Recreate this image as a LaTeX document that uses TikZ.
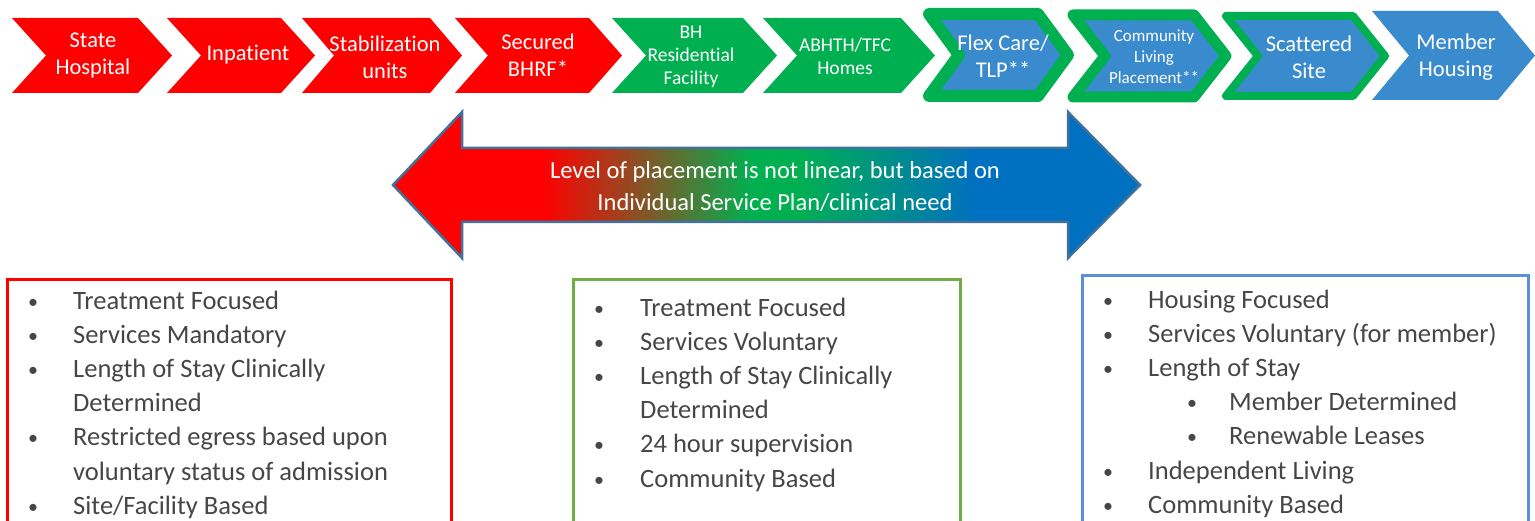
\documentclass[tikz,border=0pt]{standalone}
\usepackage{fontspec}
\setmainfont{Carlito}[Ligatures=CommonOff]
\usetikzlibrary{calc}
\definecolor{cred}{HTML}{FF0000}
\definecolor{cgreen}{HTML}{00B050}
\definecolor{cblue}{HTML}{3A8BCD}
\definecolor{ablue}{HTML}{0070C0}
\definecolor{aedge}{HTML}{41719C}
\definecolor{txtgray}{HTML}{464646}
\definecolor{gframe}{HTML}{70AD47}
\definecolor{bframe}{HTML}{5B8FD6}
\pgfdeclarehorizontalshading{arrowshade}{100bp}{color(0bp)=(cred); color(35bp)=(cred); color(49bp)=(cgreen); color(52bp)=(cgreen); color(64bp)=(ablue); color(100bp)=(ablue)}
\newcommand\chevshape[6]{\path[#1] (#2,#4) -- ({#3-#6},#4) -- (#3,{(#4+#5)/2}) -- ({#3-#6},#5) -- (#2,#5) -- ({#2+#6},{(#4+#5)/2}) -- cycle;}
\newcommand\smallbullet{{\fontsize{20}{20}\selectfont\raisebox{1pt}{\textbullet}}}
\begin{document}
\begin{tikzpicture}[x=1pt,y=-1pt,
  redchev/.style={fill=cred},
  greenchev/.style={fill=cgreen},
  bluechev/.style={fill=cblue},
  bordchev/.style={fill=cblue, draw=cgreen, line join=round},
  chevtext/.style={text=white, align=center, inner sep=0pt, font=\fontsize{22.5}{27}\selectfont},
  chevsmall/.style={chevtext, font=\fontsize{19.5}{23}\selectfont},
  chevtiny/.style={chevtext, font=\fontsize{17}{21}\selectfont},
  bigarrow/.style={shading=arrowshade, draw=aedge, line width=2.5pt, line join=miter},
  arrowtext/.style={text=white, align=center, inner sep=0pt, font=\fontsize{24.5}{32}\selectfont},
  frame/.style={line width=3pt},
  listtext/.style={text=txtgray, inner sep=0pt, anchor=north west, font=\fontsize{26.5}{34.2}\selectfont}
]
\useasboundingbox (0,0) rectangle (1535,521);
\clip (0,0) rectangle (1535,521);

% chevrons
\chevshape{redchev}{12}{172}{18}{93}{34}
\chevshape{redchev}{167}{315}{18}{93}{34}
\chevshape{redchev}{302}{462}{18}{93}{32}
\chevshape{redchev}{455}{622}{18}{93}{33}
\chevshape{greenchev}{612}{777}{18}{93}{34}
\chevshape{greenchev}{763}{935}{18}{93}{34}
\chevshape{bordchev,line width=12pt}{929}{1068}{14}{96}{30}
\chevshape{bordchev,line width=11pt}{1073}{1226}{15}{97}{32}
\chevshape{bordchev,line width=8pt}{1226}{1385}{16}{96}{32}
\chevshape{bluechev}{1372}{1535}{11}{100}{37}

\node[chevtext] (c1) at (93,56) {State\\Hospital};
\node[chevtext] (c2) at (248,55) {Inpatient};
\node[chevtext] (c3) at (385,57) {Stabilization\\units};
\node[chevtext] (c4) at (538,55) {Secured\\BHRF*};
\node[chevsmall] (c5) at (691,57) {BH\\Residential\\Facility};
\node[chevsmall] (c6) at (845,56) {ABHTH/TFC\\Homes};
\node[chevtext] (c7) at (1003,56) {Flex Care/\\TLP**};
\node[chevtiny] (c8) at (1154,57) {Community\\Living\\Placement**};
\node[chevtext] (c9) at (1309,57) {Scattered\\Site};
\node[chevtext] (c10) at (1456,57) {Member\\Housing};

% double arrow
\path[bigarrow] (393,185) -- (462,112) -- (462,148) -- (1068,148) -- (1068,112) -- (1140,185)
  -- (1068,258) -- (1068,222) -- (462,222) -- (462,258) -- cycle;
\node[arrowtext] (arrowlabel) at (775,187) {Level of placement is not linear, but based on\\Individual Service Plan/clinical need};

% boxes
\draw[frame, draw=cred] (7,280) rectangle (451,540);
\draw[frame, draw=gframe] (573,280) rectangle (960,540);
\draw[frame, draw=bframe] (1082,276) rectangle (1528,540);

\node[listtext] (redlist) at (28,285) {\begin{tabular}{@{}p{45pt}@{}l@{}}
\smallbullet & Treatment Focused\\
\smallbullet & Services Mandatory\\
\smallbullet & Length of Stay Clinically\\
 & Determined\\
\smallbullet & Restricted egress based upon\\
 & voluntary status of admission\\
\smallbullet & Site/Facility Based
\end{tabular}};

\node[listtext] (greenlist) at (594,292) {\begin{tabular}{@{}p{46pt}@{}l@{}}
\smallbullet & Treatment Focused\\
\smallbullet & Services Voluntary\\
\smallbullet & Length of Stay Clinically\\
 & Determined\\
\smallbullet & 24 hour supervision\\
\smallbullet & Community Based
\end{tabular}};

\node[listtext] (bluelist) at (1103,284) {\begin{tabular}{@{}p{45pt}@{}p{81pt}@{}l@{}}
\smallbullet & \multicolumn{2}{@{}l@{}}{Housing Focused}\\
\smallbullet & \multicolumn{2}{@{}l@{}}{Services Voluntary (for member)}\\
\smallbullet & \multicolumn{2}{@{}l@{}}{Length of Stay}\\
 & \hspace*{39pt}\smallbullet & Member Determined\\
 & \hspace*{39pt}\smallbullet & Renewable Leases\\
\smallbullet & \multicolumn{2}{@{}l@{}}{Independent Living}\\
\smallbullet & \multicolumn{2}{@{}l@{}}{Community Based}
\end{tabular}};
\end{tikzpicture}
\end{document}
